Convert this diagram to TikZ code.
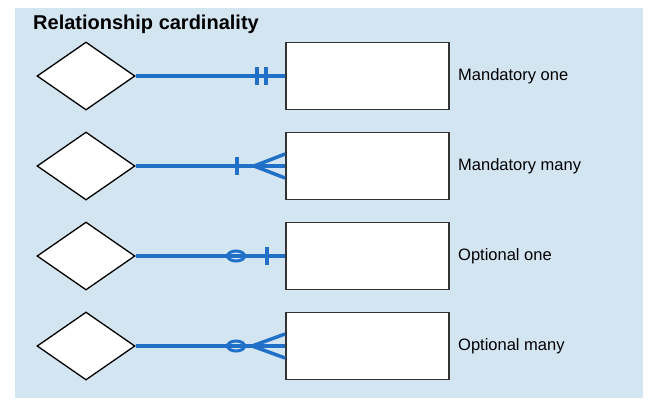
\documentclass[tikz,border=0pt]{standalone}
\usepackage{fontspec}
\setmainfont{Liberation Sans}
\usetikzlibrary{shapes.geometric,calc}
\definecolor{bgblue}{RGB}{212,229,242}
\definecolor{lineblue}{RGB}{32,112,200}
\begin{document}
\begin{tikzpicture}[x=1pt,y=-1pt,
  relbox/.style={diamond,draw=black,fill=white,line width=1.3pt,minimum width=98pt,minimum height=68pt,inner sep=0pt},
  entbox/.style={rectangle,draw=black!80,fill=white,line width=1.8pt,minimum width=163pt,minimum height=67pt,inner sep=0pt},
  lbl/.style={anchor=west,font=\fontsize{16.5}{18}\selectfont,inner sep=0pt},
  conn/.style={draw=lineblue,line width=3.3pt},
  mk/.style={draw=lineblue,line width=3.5pt}]
\useasboundingbox (0,0) rectangle (659,408);
\fill[white] (0,0) rectangle (659,408);
\fill[bgblue] (15,8) rectangle (643,398);
\node[anchor=west,inner sep=0pt,font=\fontsize{20}{22}\selectfont\bfseries] (title) at (33,24) {Relationship cardinality};
% rows
\foreach \i/\y in {1/76,2/166,3/256,4/346}{
  \node[relbox] (d\i) at (86,\y) {};
  \node[entbox] (e\i) at (367.5,\y) {};
  \draw[conn] (d\i.east) -- (e\i.west);
}
\node[lbl] (l1) at (458,76) {Mandatory one};
\node[lbl] (l2) at (458,166) {Mandatory many};
\node[lbl] (l3) at (458,256) {Optional one};
\node[lbl] (l4) at (458,346) {Optional many};
% row 1: mandatory one
\draw[mk] ($(e1.west)+(-28,-9)$) -- ($(e1.west)+(-28,9)$);
\draw[mk] ($(e1.west)+(-19,-9)$) -- ($(e1.west)+(-19,9)$);
% row 2: mandatory many
\draw[mk] ($(e2.west)+(-48,-9)$) -- ($(e2.west)+(-48,9)$);
\draw[mk] ($(e2.west)+(0,-12)$) -- ($(e2.west)+(-31,0)$) -- ($(e2.west)+(0,12)$);
% row 3: optional one
\draw[mk,line width=3pt] ($(e3.west)+(-49,0)$) ellipse[x radius=8.5,y radius=5];
\draw[mk] ($(e3.west)+(-18,-9)$) -- ($(e3.west)+(-18,9)$);
% row 4: optional many
\draw[mk,line width=3pt] ($(e4.west)+(-49,0)$) ellipse[x radius=8.5,y radius=5];
\draw[mk] ($(e4.west)+(0,-12)$) -- ($(e4.west)+(-33,0)$) -- ($(e4.west)+(0,12)$);
\end{tikzpicture}
\end{document}
